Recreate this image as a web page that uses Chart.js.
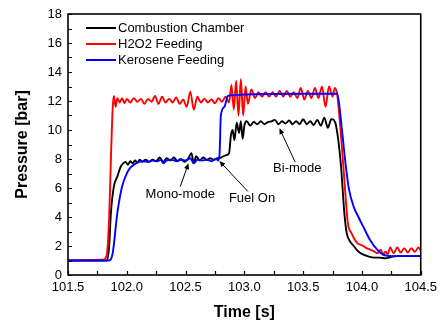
<!DOCTYPE html>
<html>
<head>
<meta charset="utf-8">
<script src="https://cdn.jsdelivr.net/npm/chart.js@4/dist/chart.umd.min.js"></script>
<style>
  html, body { margin: 0; padding: 0; background: #fff; }
  canvas { display: block; }
</style>
</head>
<body>
<canvas id="c" width="442" height="324"></canvas>
<script>
// ---- Data ----
const seriesLabels = ['Combustion Chamber', 'H2O2 Feeding', 'Kerosene Feeding'];
const seriesColors = ['#000000', '#ff0000', '#0000ff'];

const blackT = [101.5,101.83,101.85,101.865,101.89,101.92,101.95,101.97,101.99,102.01,102.03,102.05,102.07,102.09,102.11,102.13,102.16,102.19,102.22,102.25,102.28,102.31,102.34,102.37,102.40,102.43,102.46,102.49,102.52,102.55,102.57,102.59,102.62,102.65,102.68,102.71,102.74,102.77,102.80,102.84,102.87,102.885,102.9,102.915,102.935,102.955,102.97,102.985,103.0,103.02,103.05,103.08,103.11,103.14,103.17,103.2,103.23,103.26,103.29,103.32,103.35,103.38,103.41,103.44,103.47,103.5,103.53,103.56,103.59,103.62,103.65,103.68,103.71,103.74,103.76,103.78,103.82,103.85,103.87,103.9,103.93,103.96,103.99,104.03,104.1,104.15,104.2,104.25,104.3,104.5];
const blackP = [1.0,1.0,2.0,4.3,6.1,6.8,7.5,7.7,7.8,7.6,7.85,7.7,7.9,7.75,7.95,7.8,7.95,7.8,7.95,7.85,8.1,7.8,8.05,7.9,8.1,7.85,8.0,7.8,8.0,8.4,7.7,8.2,7.9,8.1,7.95,8.05,7.95,8.05,8.1,8.25,8.4,9.6,10.0,9.3,10.5,9.8,10.6,9.4,10.3,10.6,10.3,10.55,10.4,10.6,10.4,10.55,10.6,10.7,10.4,10.6,10.45,10.65,10.4,10.6,10.4,10.75,10.4,10.6,10.35,10.7,10.3,10.85,10.15,10.75,10.7,10.3,7.7,4.3,2.9,2.3,2.0,1.7,1.5,1.35,1.2,1.2,1.15,1.25,1.3,1.3];

const redT = [101.5,101.8,101.83,101.85,101.865,101.88,101.89,101.905,101.92,101.94,101.96,101.98,102.0,102.03,102.06,102.09,102.12,102.15,102.18,102.21,102.24,102.27,102.30,102.33,102.36,102.39,102.42,102.45,102.48,102.51,102.54,102.57,102.60,102.63,102.66,102.69,102.72,102.75,102.78,102.81,102.84,102.87,102.89,102.91,102.93,102.95,102.97,102.99,103.01,103.03,103.06,103.09,103.12,103.15,103.18,103.21,103.24,103.27,103.3,103.33,103.36,103.39,103.42,103.45,103.48,103.51,103.54,103.57,103.60,103.63,103.66,103.69,103.72,103.75,103.77,103.79,103.83,103.85,103.88,103.91,103.96,104.0,104.04,104.07,104.1,104.13,104.16,104.18,104.2,104.22,104.24,104.27,104.3,104.33,104.36,104.39,104.42,104.45,104.48,104.5];
const redP = [1.0,1.05,1.4,4,8,11.5,12.35,11.6,12.2,11.9,12.2,11.85,12.15,11.9,12.2,11.95,12.15,11.8,12.15,11.95,12.35,11.8,12.3,11.9,12.15,11.9,12.25,11.8,12.1,11.6,12.65,11.4,12.3,11.9,12.15,11.9,12.1,11.85,12.2,11.95,12.3,11.9,13.1,11.4,13.4,11.0,13.5,11.0,13.0,11.8,12.8,12.2,12.6,12.3,12.6,12.3,12.6,12.3,12.7,12.3,12.7,12.3,12.6,12.2,12.9,12.1,12.7,12.2,12.9,12.2,13.0,11.6,13.0,12.3,12.9,12.4,8.8,6.6,3.6,2.9,2.2,2.05,1.85,1.75,1.65,1.5,1.75,1.4,1.6,1.45,1.9,1.5,1.9,1.55,1.85,1.55,1.85,1.6,1.9,1.7];

const blueT = [101.5,101.85,101.88,101.92,101.96,102.0,102.03,102.06,102.1,102.14,102.18,102.22,102.26,102.29,102.31,102.34,102.38,102.42,102.46,102.5,102.54,102.57,102.6,102.64,102.68,102.72,102.76,102.78,102.79,102.8,102.83,102.86,102.9,103.0,103.5,103.79,103.83,103.86,103.89,103.93,103.97,104.01,104.07,104.13,104.18,104.26,104.35,104.5];
const blueP = [1.0,1.0,1.5,4.3,6.1,7.0,7.4,7.6,7.8,7.85,7.8,7.9,7.85,7.95,7.7,7.9,7.95,7.85,7.95,7.9,8.05,7.7,7.95,7.9,7.95,7.85,8.0,7.9,8.5,11.0,11.6,12.35,12.4,12.45,12.5,12.5,10.0,7.7,5.9,4.7,4.0,3.35,2.4,1.75,1.4,1.3,1.3,1.3];

// Axis ranges / tick labels
const xMin = 101.5, xMax = 104.5, xStep = 0.5, xMinorStep = 0.25;
const yMin = 0, yMax = 18, yStep = 2, yMinorStep = 1;
const xTitle = 'Time [s]';
const yTitle = 'Pressure [bar]';

// Annotation labels (text, text anchor, arrow tail, arrow head) in data units
const noteTexts = ['Mono-mode', 'Fuel On', 'Bi-mode'];
const noteTextPos = [[102.455, 5.58], [103.065, 5.30], [103.45, 7.32]];
const noteTail = [[102.455, 6.1], [103.03, 5.76], [103.433, 7.78]];
const noteHead = [[102.525, 7.71], [102.787, 7.87], [103.298, 10.12]];

// ---- Build datasets ----
function pts(t, p) { return t.map((x, i) => ({ x: x, y: p[i] })); }
const seriesT = [blackT, redT, blueT];
const seriesP = [blackP, redP, blueP];
const drawOrder = [3, 2, 1];

const FONT = "'Liberation Sans', Arial, sans-serif";

const framePlugin = {
  id: 'framePlugin',
  afterDraw(chart) {
    const { ctx, chartArea: a, scales: { x, y } } = chart;
    ctx.save();
    // ticks (inward)
    ctx.strokeStyle = '#000';
    ctx.lineWidth = 1.2;
    ctx.beginPath();
    for (let v = xMin; v <= xMax + 1e-9; v += xMinorStep) {
      const px = Math.round(x.getPixelForValue(v)) + 0.5;
      ctx.moveTo(px, a.bottom);
      ctx.lineTo(px, a.bottom - 4);
    }
    for (let v = yMin; v <= yMax + 1e-9; v += yMinorStep) {
      const py = Math.round(y.getPixelForValue(v)) + 0.5;
      ctx.moveTo(a.left, py);
      ctx.lineTo(a.left + 4, py);
    }
    ctx.stroke();
    // frame
    ctx.lineWidth = 1.6;
    ctx.strokeRect(a.left, a.top, a.right - a.left, a.bottom - a.top);

    // legend
    ctx.font = '13px ' + FONT;
    ctx.textBaseline = 'middle';
    ctx.textAlign = 'left';
    chart.data.datasets.forEach((ds, i) => {
      const ly = 28 + i * 16;
      ctx.strokeStyle = ds.borderColor;
      ctx.lineWidth = 2;
      ctx.beginPath();
      ctx.moveTo(86, ly);
      ctx.lineTo(116, ly);
      ctx.stroke();
      ctx.fillStyle = '#000';
      ctx.fillText(ds.label, 118, ly + 0.5);
    });

    // annotations
    ctx.strokeStyle = '#000';
    ctx.fillStyle = '#000';
    ctx.lineWidth = 1;
    noteTexts.forEach((txt, i) => {
      const tx = x.getPixelForValue(noteTextPos[i][0]);
      const ty = y.getPixelForValue(noteTextPos[i][1]);
      ctx.textAlign = 'center';
      ctx.fillText(txt, tx, ty);
      const x1 = x.getPixelForValue(noteTail[i][0]), y1 = y.getPixelForValue(noteTail[i][1]);
      const x2 = x.getPixelForValue(noteHead[i][0]), y2 = y.getPixelForValue(noteHead[i][1]);
      const ang = Math.atan2(y2 - y1, x2 - x1);
      const hl = 6, hw = 2.6;
      ctx.beginPath();
      ctx.moveTo(x1, y1);
      ctx.lineTo(x2 - Math.cos(ang) * hl * 0.8, y2 - Math.sin(ang) * hl * 0.8);
      ctx.stroke();
      ctx.beginPath();
      ctx.moveTo(x2, y2);
      ctx.lineTo(x2 - Math.cos(ang) * hl - Math.sin(ang) * hw, y2 - Math.sin(ang) * hl + Math.cos(ang) * hw);
      ctx.lineTo(x2 - Math.cos(ang) * hl + Math.sin(ang) * hw, y2 - Math.sin(ang) * hl - Math.cos(ang) * hw);
      ctx.closePath();
      ctx.fill();
    });
    ctx.restore();
  }
};

new Chart(document.getElementById('c'), {
  type: 'line',
  data: {
    datasets: seriesLabels.map((lab, i) => ({
      label: lab,
      data: pts(seriesT[i], seriesP[i]),
      borderColor: seriesColors[i],
      backgroundColor: seriesColors[i],
      borderWidth: 1.9,
      borderJoinStyle: 'round',
      borderCapStyle: 'round',
      pointRadius: 0,
      cubicInterpolationMode: 'monotone',
      fill: false,
      order: drawOrder[i]
    }))
  },
  options: {
    responsive: false,
    animation: false,
    devicePixelRatio: 1,
    layout: { padding: { top: 14, right: 18, left: 0, bottom: 0 } },
    plugins: { legend: { display: false }, tooltip: { enabled: false } },
    scales: {
      x: {
        type: 'linear',
        min: xMin, max: xMax,
        grid: { display: false, drawTicks: false },
        border: { display: false },
        ticks: {
          stepSize: xStep,
          padding: 5,
          color: '#000',
          font: { family: FONT, size: 13 },
          maxRotation: 0,
          callback: v => Number(v).toFixed(1)
        },
        title: {
          display: true, text: xTitle, color: '#000',
          font: { family: FONT, size: 16, weight: 'bold' },
          padding: { top: 0, bottom: 1.5 }
        },
        afterFit: s => { s.height = 49; }
      },
      y: {
        min: yMin, max: yMax,
        grid: { display: false, drawTicks: false },
        border: { display: false },
        ticks: {
          stepSize: yStep,
          padding: 6,
          color: '#000',
          font: { family: FONT, size: 13 },
          callback: v => String(v)
        },
        title: {
          display: true, text: yTitle, color: '#000',
          font: { family: FONT, size: 16, weight: 'bold' },
          padding: { top: 13, bottom: 0 }
        },
        afterFit: s => { s.width = 68; }
      }
    }
  },
  plugins: [framePlugin]
});
</script>
</body>
</html>
